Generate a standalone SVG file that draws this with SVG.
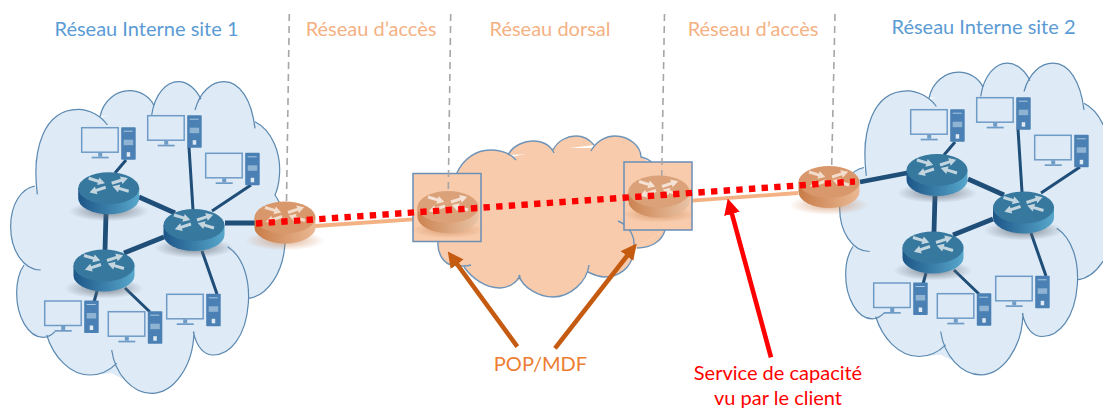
<svg xmlns="http://www.w3.org/2000/svg" width="1103" height="408" viewBox="0 0 1103 408">
<style>
.t{font-family:Lato,"Liberation Sans",sans-serif;font-size:20px;text-anchor:middle}
.blue{fill:#5b9bd5}.lt{fill:#f4b183}.or{fill:#ed7d31}.rd{fill:#ff0000}
.thin{stroke:#1f4e79;stroke-width:3;fill:none}
.thick{stroke:#1f4e79;stroke-width:4.8;fill:none}
.div{stroke:#a6a6a6;stroke-width:1.6;stroke-dasharray:7 5;fill:none}
.frame{fill:#f7cbac;stroke:#6b8fb5;stroke-width:1.5}
.pop{stroke:#c55a11;stroke-width:4.6;fill:none;marker-end:url(#hOr)}
.svc{stroke:#ff0000;stroke-width:4.6;fill:none;marker-end:url(#hRd)}
.cf{fill:#deeaf6;stroke:none}
.cs{fill:none;stroke:#5a88b0;stroke-width:3.6}
.of{fill:#f7cbac;stroke:none}
.os{fill:none;stroke:#6f94b8;stroke-width:1.4}
</style>
<defs>
<linearGradient id="gB"><stop offset="0" stop-color="#1d5688"/><stop offset="1" stop-color="#57a7cb"/></linearGradient>
<linearGradient id="gO"><stop offset="0" stop-color="#c87c48"/><stop offset="1" stop-color="#eab994"/></linearGradient>
<linearGradient id="gF"><stop offset="0" stop-color="#cc8350"/><stop offset="1" stop-color="#e8c3a6"/></linearGradient>
<radialGradient id="sB"><stop offset="0" stop-color="#5c6670" stop-opacity=".75"/><stop offset="1" stop-color="#5c6670" stop-opacity="0"/></radialGradient>
<radialGradient id="sO"><stop offset="0" stop-color="#c87c48" stop-opacity=".6"/><stop offset="1" stop-color="#c87c48" stop-opacity="0"/></radialGradient>
<marker id="hOr" markerUnits="userSpaceOnUse" markerWidth="16" markerHeight="16" viewBox="0 0 16 16" refX="1" refY="8" orient="auto"><path d="M0 0L16 8L0 16Z" fill="#c55a11"/></marker>
<marker id="hRd" markerUnits="userSpaceOnUse" markerWidth="16" markerHeight="16" viewBox="0 0 16 16" refX="1" refY="8" orient="auto"><path d="M0 0L16 8L0 16Z" fill="#ff0000"/></marker>
<path id="ra" d="M0-1.5L10-1.5L10-4L17 0L10 4L10 1.500L0 1.500Z"/>
<g id="rarrows">
<use href="#ra" transform="translate(-20,-6) rotate(17)"/>
<use href="#ra" transform="translate(3,-1) rotate(-18)"/>
<use href="#ra" transform="translate(-3,3) rotate(162)"/>
<use href="#ra" transform="translate(20,7) rotate(197)"/>
</g>
<g id="rB">
<ellipse cx="0" cy="39" rx="40" ry="10" fill="url(#sB)"/>
<path d="M-30.5 16V26A30.5 16 0 0 0 30.5 26V16Z" fill="url(#gB)"/>
<ellipse cx="0" cy="16" rx="30.5" ry="16" fill="#37789f"/>
<use href="#rarrows" y="12" fill="#c3d6df"/>
</g>
<g id="rO">
<ellipse cx="0" cy="39" rx="40" ry="10" fill="url(#sO)"/>
<path d="M-30.5 16V26A30.5 16 0 0 0 30.5 26V16Z" fill="url(#gO)"/>
<ellipse cx="0" cy="16" rx="30.5" ry="16" fill="#d8986c"/>
<use href="#rarrows" y="12" fill="#f2dccb"/>
</g>
<g id="rF">
<ellipse cx="0" cy="39" rx="36" ry="8" fill="url(#sO)"/>
<path d="M-30.5 16V26A30.5 16 0 0 0 30.5 26V16Z" fill="url(#gF)"/>
<ellipse cx="0" cy="16" rx="30.5" ry="16" fill="#dba27a"/>
<use href="#rarrows" y="12" fill="#f4e2d5"/>
</g>
<g id="pc">
<rect x="0" y="0" width="36.5" height="24.5" fill="none" stroke="#6f9cc6" stroke-width="1.5"/>
<rect x="16.5" y="25" width="4" height="4" fill="#6f9cc6"/>
<rect x="10" y="29" width="17" height="1.7" fill="#6f9cc6"/>
<rect x="39.5" y="-.5" width="14.5" height="32.5" rx=".8" fill="#4a80b3"/>
<rect x="42" y="3" width="9" height="1" fill="#a9c6e0"/>
<rect x="42" y="12" width="9.5" height="5.5" fill="#8fb3d3"/>
<rect x="45" y="24.5" width="3.5" height="4.5" fill="#dfe9f3"/>
</g>
<g id="cloud">
<path class="cf" d="M112 403L105 300L235 200L388 140L535 120L672 120L765 200L835 350L825 405L855 550L745 715L745 730L640 885L582 830L455 1000L335 940L270 945L140 825L130 832L50 700L72 615L32 500L105 378Z"/>
<path class="cf" d="M112 403C95 270 130 148 235 148C270 148 305 170 322 195ZM300 170C310 120 350 92 388 92C420 92 450 110 462 137ZM455 165C465 100 500 65 535 65C565 65 590 90 603 118ZM585 150C600 95 635 65 672 65C720 65 755 120 765 205ZM765 185C815 210 845 280 838 350C836 375 832 390 825 405C850 440 858 490 855 550C850 640 800 710 745 715ZM683 560C730 590 750 660 745 730C738 830 690 885 640 885C615 885 590 865 580 815ZM582 815C580 920 520 1000 455 1000C395 1000 345 940 335 870ZM350 910C325 935 295 945 270 945C210 945 160 890 140 825ZM165 815C150 830 140 832 130 832C85 832 50 770 50 700C50 665 58 635 72 615ZM122 630C70 630 32 570 32 500C32 430 65 385 105 378Z"/>
<path class="cs" d="M112 403C95 270 130 148 235 148C270 148 305 170 322 195M300 170C310 120 350 92 388 92C420 92 450 110 462 137M455 165C465 100 500 65 535 65C565 65 590 90 603 118M585 150C600 95 635 65 672 65C720 65 755 120 765 205M765 185C815 210 845 280 838 350C836 375 832 390 825 405C850 440 858 490 855 550C850 640 800 710 745 715M683 560C730 590 750 660 745 730C738 830 690 885 640 885C615 885 590 865 580 815M582 815C580 920 520 1000 455 1000C395 1000 345 940 335 870M350 910C325 935 295 945 270 945C210 945 160 890 140 825M165 815C150 830 140 832 130 832C85 832 50 770 50 700C50 665 58 635 72 615M122 630C70 630 32 570 32 500C32 430 65 385 105 378"/>
</g>
<g id="net">
<path class="thin" d="M126 160L115 173M189 147L193 210M251 185L212 211M97 291L94 302M125 288L150 312M202 251L217 294"/>
<path class="thick" d="M139 197L175 213M106 214L105 250M124 253L164 237"/>
<use href="#pc" x="81.7" y="127.7"/>
<use href="#pc" x="147.7" y="115.7"/>
<use href="#pc" x="205.7" y="153.3"/>
<use href="#pc" x="44.7" y="301"/>
<use href="#pc" x="108.3" y="311.7"/>
<use href="#pc" x="166.7" y="294.3"/>
</g>
</defs>

<g id="labels">
<text class="t blue" x="146.500" y="36">Réseau Interne site 1</text>
<text class="t lt" x="371" y="36">Réseau d’accès</text>
<text class="t lt" x="550" y="36">Réseau dorsal</text>
<text class="t lt" x="753" y="36">Réseau d’accès</text>
<text class="t blue" x="983.500" y="34">Réseau Interne site 2</text>
<text class="t or" x="540.500" y="371">POP/MDF</text>
<text class="t rd" x="778" y="380">Service de capacité</text>
<text class="t rd" x="778" y="405">vu par le client</text>
</g>

<g id="cloud-site1"><use href="#cloud" transform="translate(0,60) scale(.33333)"/></g>
<g id="cloud-site2"><use href="#cloud" transform="translate(829,41.500) scale(.33333)"/></g>
<g id="cloud-dorsal">
<path class="of" d="M438 242L456 175L516 156L554 148L592 148L641 157L655 165L665 230L637 248L633 253L605 277L588 270L553 297L519 280L500 288L464 267L452 265Z"/>
<path class="of" d="M456 175C463 158 477 150 490 150C500 150 510 153 516 160ZM508 155C513 145 525 141 533 141C542 141 550 145 554 153ZM553 150C558 140 568 136 576 136C583 136 590 140 594 145ZM591 151C597 140 607 136 615 136C630 136 641 147 641 157ZM665 230C662 242 650 248 637 248ZM618 221C630 226 637 238 633 253C632 268 618 277 605 277C598 277 592 274 588 272ZM589 265C587 282 570 297 553 297C540 297 522 288 519 275ZM520 275C517 283 508 288 500 288C485 288 472 278 464 267Z"/>
<path class="of" d="M438 242C437 255 445 264 452 265C458 266 465 267 471 265L460 240Z"/>
<path class="os" d="M456 175C463 158 477 150 490 150C500 150 510 153 516 160M508 155C513 145 525 141 533 141C542 141 550 145 554 153M553 150C558 140 568 136 576 136C583 136 590 140 594 145M591 151C597 140 607 136 615 136C630 136 641 147 641 157C647 158 652 162 655 165M665 230C662 242 650 248 637 248M618 221C630 226 637 238 633 253C632 268 618 277 605 277C598 277 592 274 588 272M589 265C587 282 570 297 553 297C540 297 522 288 519 275M520 275C517 283 508 288 500 288C485 288 472 278 464 267M438 242C437 255 445 264 452 265C458 266 465 267 471 265"/>
</g>

<g id="connectors">
<use href="#net"/>
<use href="#net" x="829" y="-18"/>
<path class="thick" d="M225 223H256M860 182L907 173"/>
<path d="M315 226L413 219.300M692 200.600L798 193" stroke="#f4b183" stroke-width="3.8" fill="none"/>
</g>

<g id="pop-frames">
<rect class="frame" x="413" y="173.500" width="68" height="68"/>
<rect class="frame" x="624" y="162" width="68" height="68"/>
</g>

<g id="dividers">
<path class="div" d="M289.300 14L286.500 202"/>
<path class="div" d="M450.700 14L448.300 189"/>
<path class="div" d="M664.500 14L661.700 176"/>
<path class="div" d="M835 14L831.700 166"/>
</g>

<g id="router-1a"><use href="#rB" x="108.700" y="172.300"/></g>
<g id="router-1b"><use href="#rB" x="194" y="209"/></g>
<g id="router-1c"><use href="#rB" x="104" y="249.500"/></g>
<g id="router-2a"><use href="#rB" x="937" y="154"/></g>
<g id="router-2b"><use href="#rB" x="1023.500" y="191.500"/></g>
<g id="router-2c"><use href="#rB" x="933" y="231.500"/></g>
<g id="router-access-1"><use href="#rO" x="285" y="201.500"/></g>
<g id="router-pop-1"><use href="#rF" x="448" y="191"/></g>
<g id="router-pop-2"><use href="#rF" x="659" y="175.500"/></g>
<g id="router-access-2"><use href="#rO" x="829" y="166"/></g>

<g id="overlays">
<path d="M256 223.500L855 181.500" stroke="#ff0000" stroke-width="6.4" stroke-dasharray="6.400 6.270" fill="none"/>
<path class="pop" d="M517.300 346.700L456.600 263.500"/>
<path class="pop" d="M555 348.300L627.500 255.300"/>
<path class="svc" d="M771 357.300L731.700 213"/>
</g>
</svg>
